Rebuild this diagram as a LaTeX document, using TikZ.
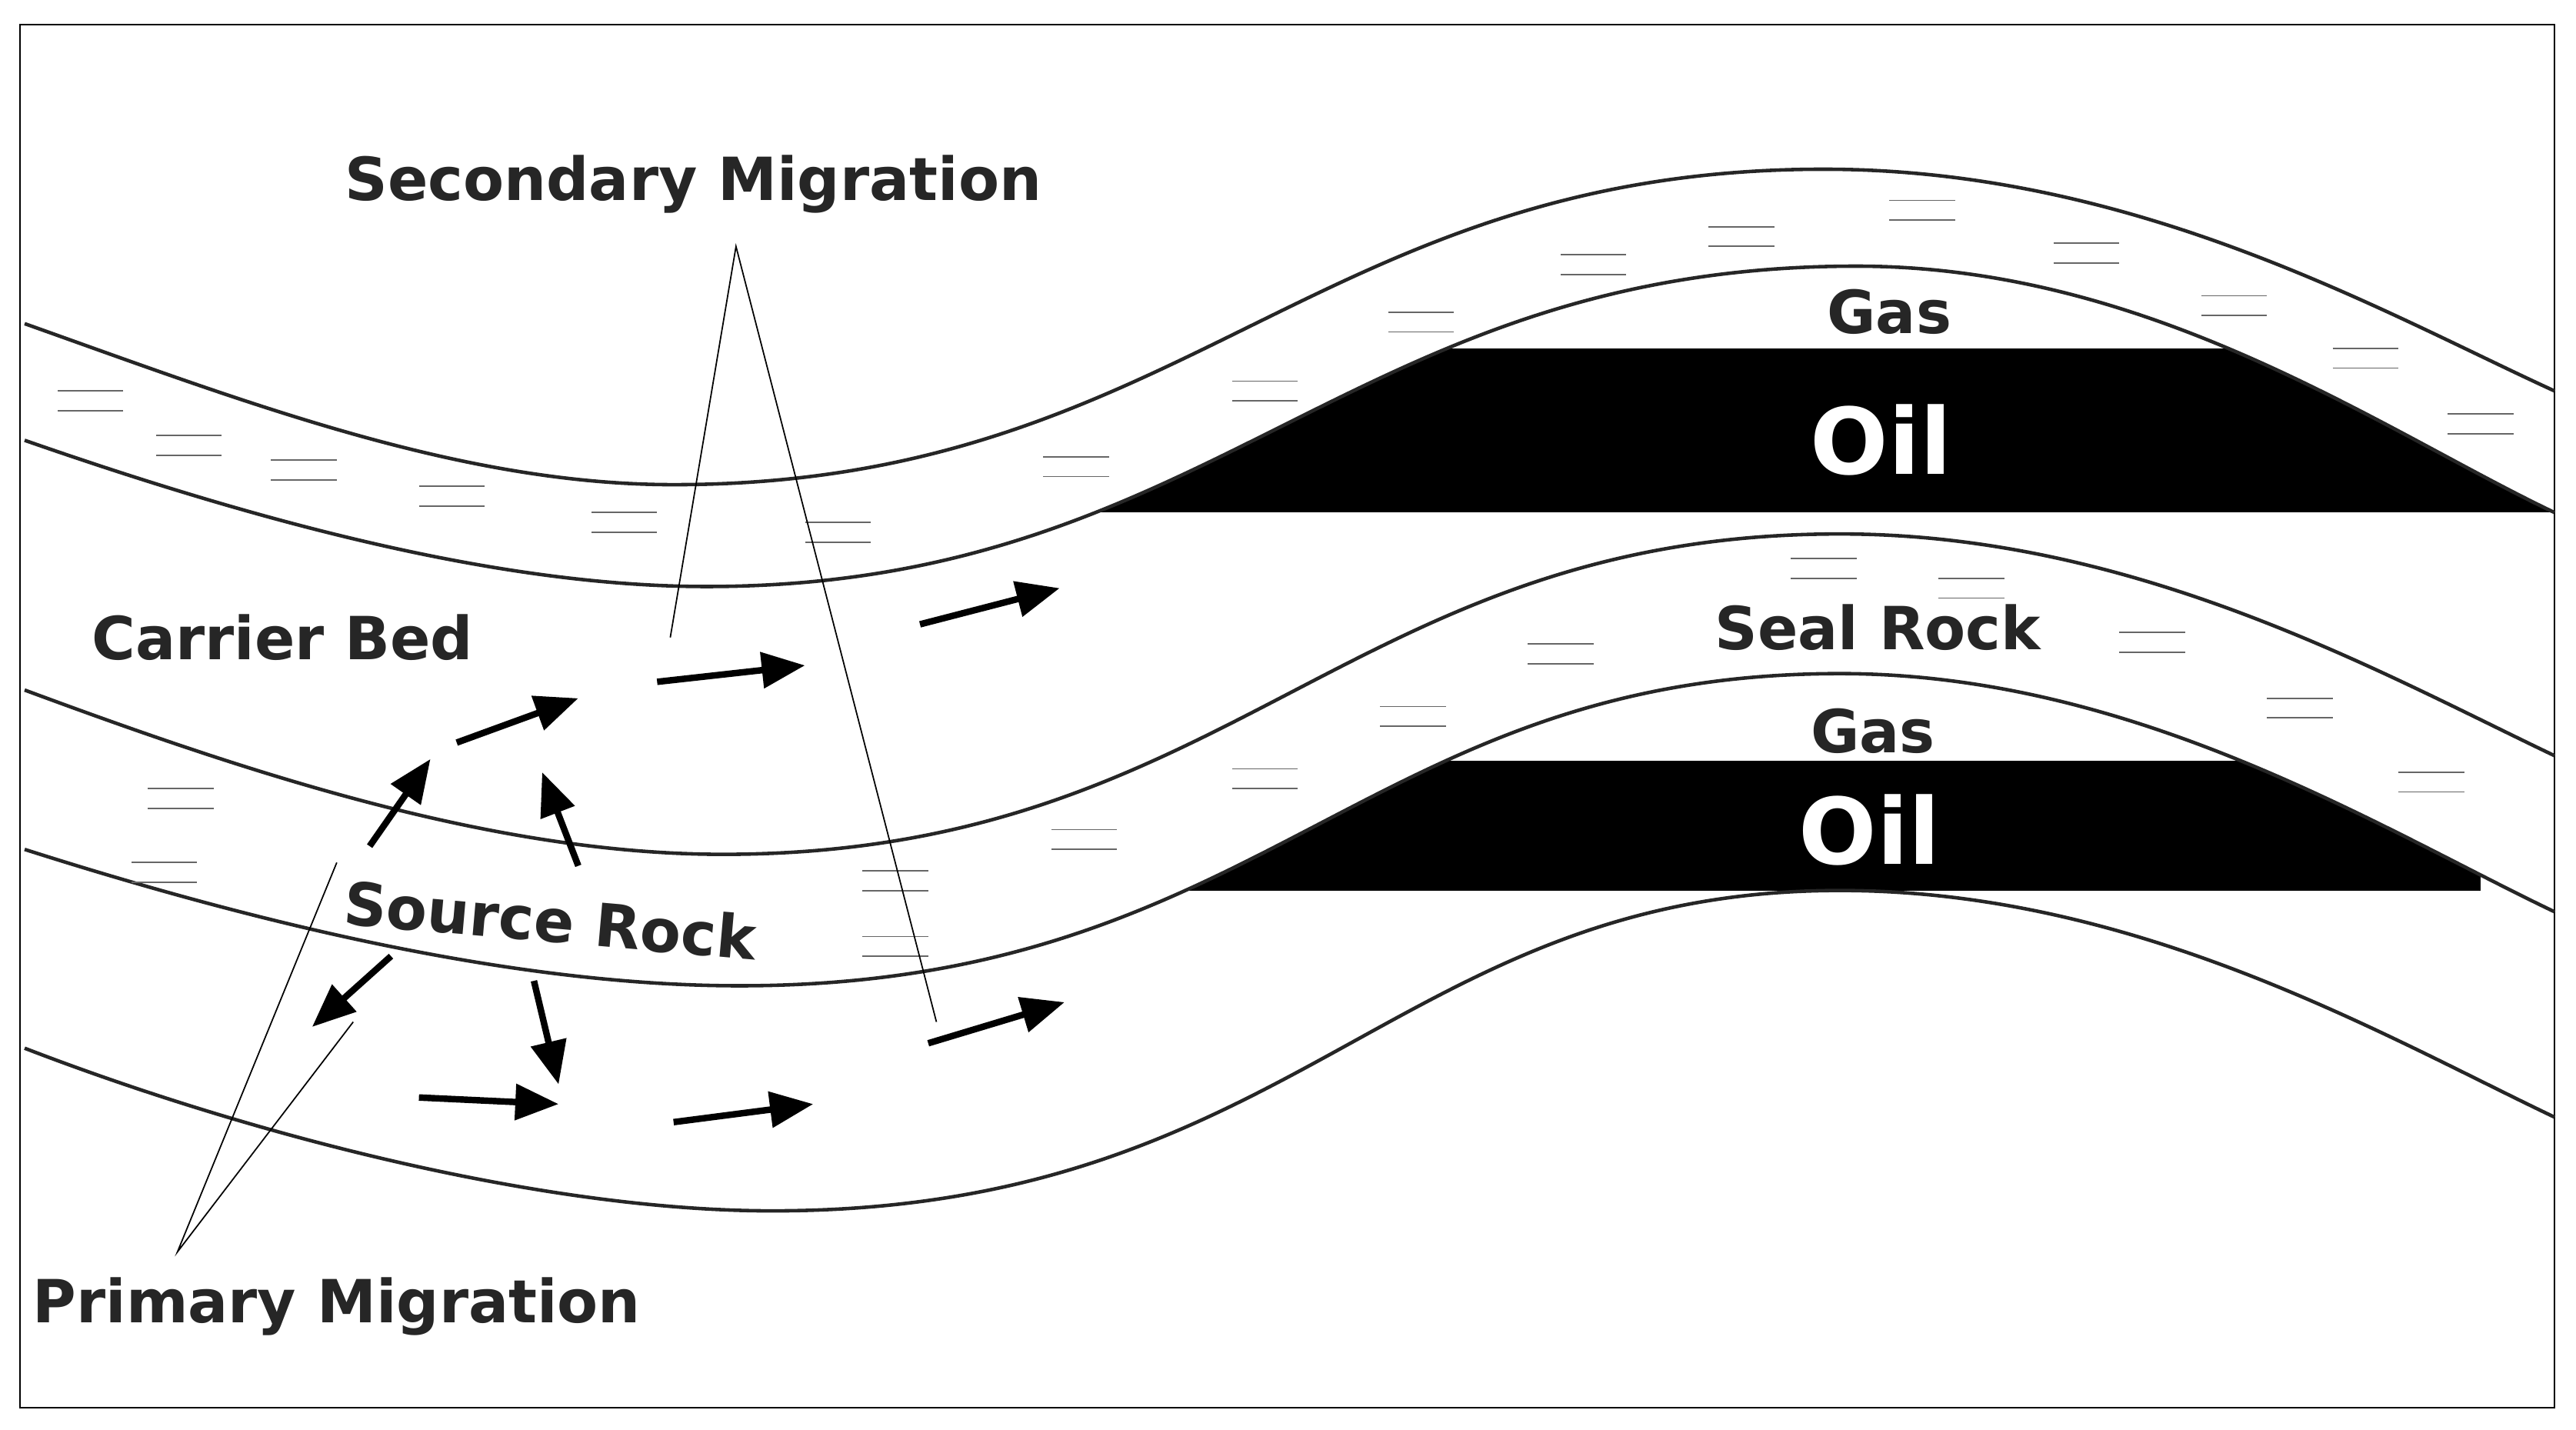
\documentclass[tikz,border=0pt]{standalone}
\usepackage{fontspec}
\setmainfont{DejaVu Sans}
\usetikzlibrary{arrows.meta}
\begin{document}
\begin{tikzpicture}[x=0.02136cm,y=-0.02136cm,
  layer/.style={line width=1.3pt,black!85},
  mig/.style={line width=2.4pt,-{Triangle[length=16pt,width=13pt]}},
  call/.style={line width=0.5pt},
  lbl/.style={font=\fontsize{22}{24}\selectfont\bfseries,text=black!85},
  oil/.style={text=white,font=\fontsize{34}{36}\selectfont\bfseries},
  dsh/.style={line width=0.5pt,black!60}]
\useasboundingbox (0,0) rectangle (1568,870);
\draw[line width=0.6pt] (12,15) rectangle (1555,857);
% oil bodies, bounded above by their seal's base
\begin{scope}
\clip (15,268) .. controls (150,315) and (300,357) .. (430,357) .. controls (740,357) and (820,162) .. (1130,162) .. controls (1310,162) and (1450,262) .. (1555,312) -- (1555,860) -- (15,860) -- cycle;
\fill (600,212) rectangle (1556,312);
\end{scope}
\begin{scope}
\clip (15,517) .. controls (150,560) and (310,600) .. (450,600) .. controls (770,600) and (830,410) .. (1120,410) .. controls (1300,410) and (1450,505) .. (1555,555) -- (1555,860) -- (15,860) -- cycle;
\fill (700,463) rectangle (1510,542);
\end{scope}
% layers
\draw[layer] (15,197) .. controls (150,245) and (280,295) .. (410,295) .. controls (720,295) and (800,103) .. (1110,103) .. controls (1300,103) and (1450,190) .. (1555,238);
\draw[layer] (15,268) .. controls (150,315) and (300,357) .. (430,357) .. controls (740,357) and (820,162) .. (1130,162) .. controls (1310,162) and (1450,262) .. (1555,312);
\draw[layer] (15,420) .. controls (150,470) and (300,520) .. (440,520) .. controls (750,520) and (820,325) .. (1120,325) .. controls (1300,325) and (1450,410) .. (1555,460);
\draw[layer] (15,517) .. controls (150,560) and (310,600) .. (450,600) .. controls (770,600) and (830,410) .. (1120,410) .. controls (1300,410) and (1450,505) .. (1555,555);
\draw[layer] (15,638) .. controls (150,690) and (330,737) .. (470,737) .. controls (790,737) and (850,542) .. (1120,542) .. controls (1300,542) and (1450,630) .. (1555,680);
% dashes
\foreach \x/\y in {55/238,115/265,185/280,275/296,380/312,510/318,655/278,770/232,865/190,970/155,1060/138,1170/122,1270/148,1360/180,1440/212,1510/252}
  {\draw[dsh] (\x-20,\y) -- (\x+20,\y); \draw[dsh] (\x-20,\y+12) -- (\x+20,\y+12);}
\foreach \x/\y in {110/480,100/525,545/530,545/570,660/505,770/468,860/430,950/392,1110/340,1200/352,1310/385,1400/425,1480/470}
  {\draw[dsh] (\x-20,\y) -- (\x+20,\y); \draw[dsh] (\x-20,\y+12) -- (\x+20,\y+12);}
% callout lines
\coordinate (sm) at (448,150);
\coordinate (sm1) at (408,388);
\coordinate (sm2) at (570,622);
\draw[call] (sm1) -- (sm) -- (sm2);
\coordinate (pm) at (108,762);
\coordinate (pm1) at (205,525);
\coordinate (pm2) at (215,622);
\draw[call] (pm1) -- (pm) -- (pm2);
% arrows
\foreach \a/\b/\c/\d in {560/380/645/358, 400/415/490/405, 278/452/352/425, 225/515/262/462, 352/527/330/470, 238/582/190/625, 325/597/340/660, 255/668/340/672, 410/683/495/672, 565/635/648/610}
  \draw[mig] (\a,\b) -- (\c,\d);
% labels
\node[lbl] (t1) at (422,112) {Secondary Migration};
\node[lbl] (t2) at (172,388) {Carrier Bed};
\node[lbl,rotate=-5] (t3) at (335,560) {Source Rock};
\node[lbl] (t4) at (205,795) {Primary Migration};
\node[lbl] (t5) at (1150,190) {Gas};
\node[oil] (t6) at (1145,268) {Oil};
\node[lbl] (t7) at (1143,382) {Seal Rock};
\node[lbl] (t8) at (1140,445) {Gas};
\node[oil] (t9) at (1138,505) {Oil};
\end{tikzpicture}
\end{document}
